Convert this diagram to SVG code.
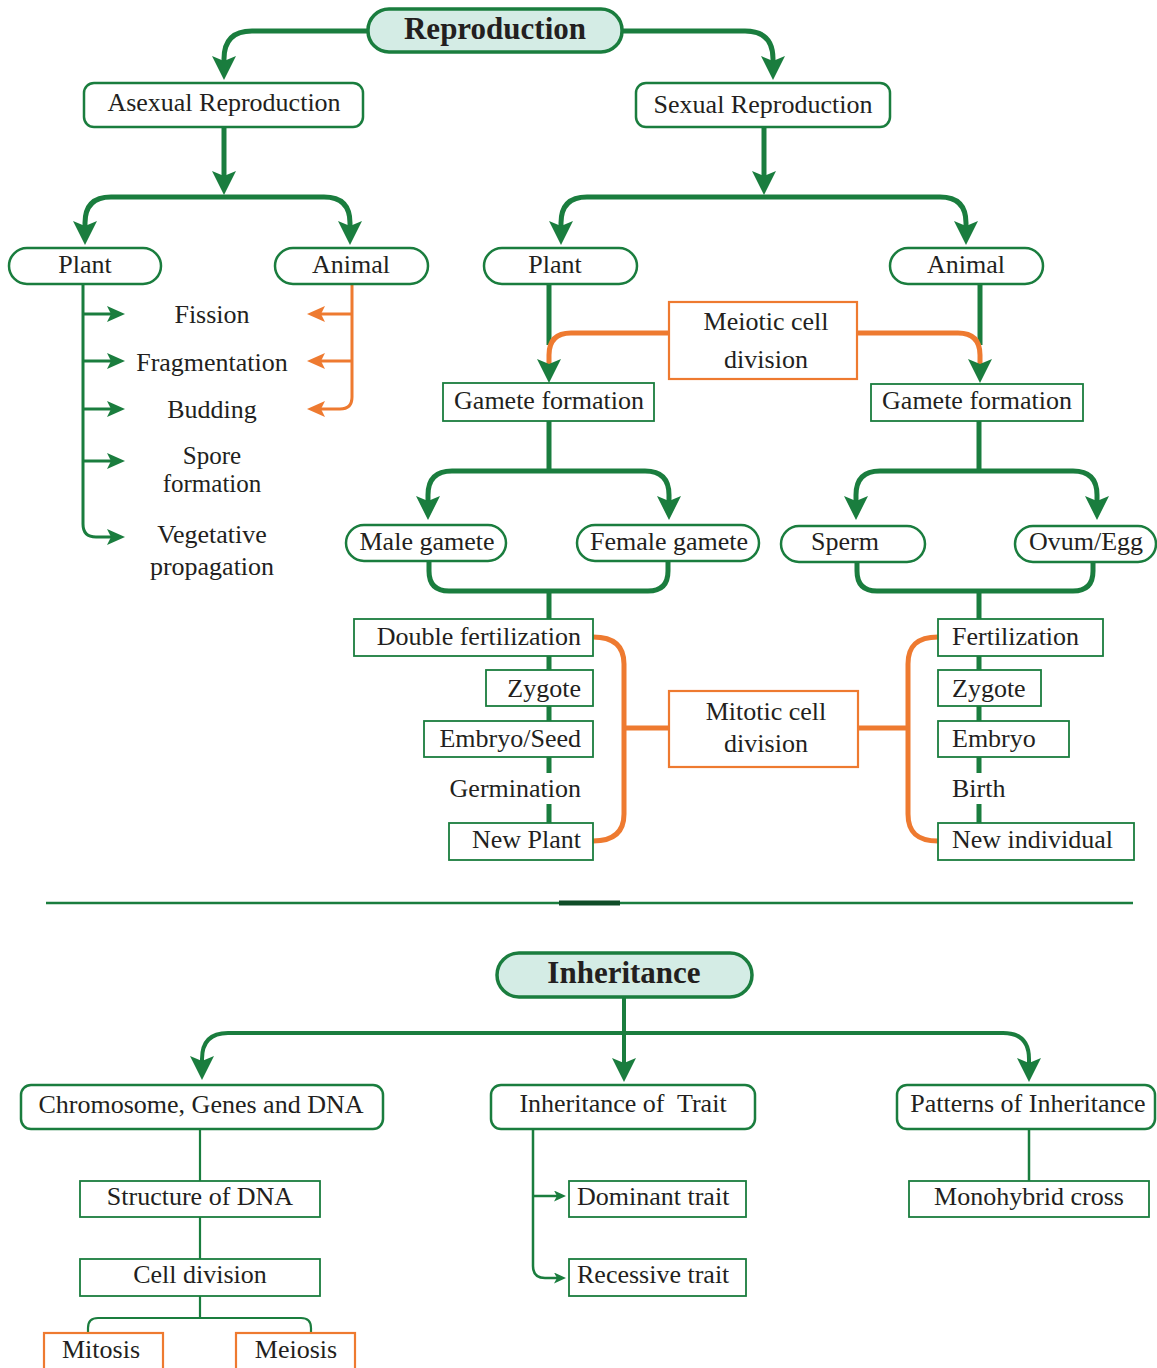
<svg xmlns="http://www.w3.org/2000/svg" width="1157" height="1368" viewBox="0 0 1157 1368">
<defs>
<style>
.bg{fill:#ffffff}
.root{fill:#d4ece5;stroke:#1a7d3e;stroke-width:3.5}
.pill{fill:#ffffff;stroke:#1a7d3e;stroke-width:2.5}
.box{fill:#ffffff;stroke:#1a7d3e;stroke-width:1.8}
.obox{fill:#ffffff;stroke:#ee7a30;stroke-width:2.2}
.t{font-family:"Liberation Serif","Times New Roman",serif;font-size:26px;fill:#231f20;text-anchor:middle}
.s{text-anchor:start}
.e{text-anchor:end}
.tb{font-family:"Liberation Serif","Times New Roman",serif;font-size:31px;font-weight:bold;fill:#231f20;text-anchor:middle}
.main{fill:none;stroke:#1a7d3e;stroke-width:5}
.thin{fill:none;stroke:#1a7d3e;stroke-width:3}
.fine{fill:none;stroke:#1a7d3e;stroke-width:2.2}
.or{fill:none;stroke:#ee7a30;stroke-width:5}
.orthin{fill:none;stroke:#ee7a30;stroke-width:3}
</style>
<marker id="ah" viewBox="0 0 24 24" markerWidth="24" markerHeight="24" refX="10" refY="12" orient="auto" markerUnits="userSpaceOnUse"><path d="M0,0 L24,12 L0,24 L5,12 z" fill="#1a7d3e"/></marker>
<marker id="sg" viewBox="0 0 18 16" markerWidth="18" markerHeight="16" refX="6" refY="8" orient="auto" markerUnits="userSpaceOnUse"><path d="M0,0 L18,8 L0,16 L4,8 z" fill="#1a7d3e"/></marker>
<marker id="so" viewBox="0 0 18 16" markerWidth="18" markerHeight="16" refX="6" refY="8" orient="auto" markerUnits="userSpaceOnUse"><path d="M0,0 L18,8 L0,16 L4,8 z" fill="#ee7a30"/></marker>
<marker id="tg" viewBox="0 0 12 11" markerWidth="12" markerHeight="11" refX="3" refY="5.5" orient="auto" markerUnits="userSpaceOnUse"><path d="M0,0 L12,5.5 L0,11 L3,5.5 z" fill="#1a7d3e"/></marker>
</defs>
<rect class="bg" x="0" y="0" width="1157" height="1368"/>

<g id="connectors">
<path class="main" d="M368,31 H252 Q224,31 224,59 V66" marker-end="url(#ah)"/>
<path class="main" d="M622,31 H745 Q773,31 773,59 V66" marker-end="url(#ah)"/>
<path class="main" d="M224,127 V181" marker-end="url(#ah)"/>
<path class="main" d="M224,197 H111 Q85,197 85,223 V231" marker-end="url(#ah)"/>
<path class="main" d="M224,197 H324 Q350,197 350,223 V231" marker-end="url(#ah)"/>
<path class="main" d="M764,127 V181" marker-end="url(#ah)"/>
<path class="main" d="M764,197 H587 Q561,197 561,223 V231" marker-end="url(#ah)"/>
<path class="main" d="M764,197 H940 Q966,197 966,223 V231" marker-end="url(#ah)"/>

<path class="thin" d="M83,284 V524 Q83,537 96,537 H113" marker-end="url(#sg)"/>
<path class="thin" d="M83,314 H113" marker-end="url(#sg)"/>
<path class="thin" d="M83,361 H113" marker-end="url(#sg)"/>
<path class="thin" d="M83,409 H113" marker-end="url(#sg)"/>
<path class="thin" d="M83,461 H113" marker-end="url(#sg)"/>
<path class="orthin" d="M352,284 V397 Q352,409 340,409 H319" marker-end="url(#so)"/>
<path class="orthin" d="M352,314 H319" marker-end="url(#so)"/>
<path class="orthin" d="M352,361 H319" marker-end="url(#so)"/>

<path class="main" d="M549,284 V345"/>
<path class="or" d="M669,333 H571 Q549,333 549,355 V369" marker-end="url(#ah)"/>
<path class="main" d="M980,284 V345"/>
<path class="or" d="M857,333 H958 Q980,333 980,355 V369" marker-end="url(#ah)"/>

<path class="main" d="M549,421 V471"/>
<path class="main" d="M549,471 H452 Q428,471 428,495 V506" marker-end="url(#ah)"/>
<path class="main" d="M549,471 H645 Q669,471 669,495 V506" marker-end="url(#ah)"/>
<path class="main" d="M429,561 V571 Q429,591 449,591 H648 Q668,591 668,571 V561"/>
<path class="main" d="M549,591 V619"/>

<path class="main" d="M979,421 V471"/>
<path class="main" d="M979,471 H880 Q856,471 856,495 V506" marker-end="url(#ah)"/>
<path class="main" d="M979,471 H1073 Q1097,471 1097,495 V506" marker-end="url(#ah)"/>
<path class="main" d="M857,562 V571 Q857,591 877,591 H1073 Q1093,591 1093,571 V562"/>
<path class="main" d="M979,591 V619"/>

<path class="main" d="M549,656 V670 M549,706 V721 M549,757 V773 M549,804 V823"/>
<path class="main" d="M979,656 V670 M979,706 V721 M979,757 V773 M979,804 V823"/>

<path class="or" d="M593,637 C614,637 624,646 624,664 V814 C624,832 614,841 593,841"/>
<path class="or" d="M624,728 H669"/>
<path class="or" d="M938,637 C917,637 908,646 908,664 V814 C908,832 917,841 938,841"/>
<path class="or" d="M908,728 H858"/>

<path class="fine" d="M46,903 H1133" style="stroke-width:2.5"/>
<path d="M559,903 H620" fill="none" stroke="#0f4d28" stroke-width="5"/>

<path class="main" style="stroke-width:4" d="M624,997 V1068" marker-end="url(#ah)"/>
<path class="main" style="stroke-width:4" d="M624,1033 H228 Q202,1033 202,1059 V1066" marker-end="url(#ah)"/>
<path class="main" style="stroke-width:4" d="M624,1033 H1003 Q1029,1033 1029,1059 V1068" marker-end="url(#ah)"/>

<path class="fine" d="M200,1129 V1181 M200,1217 V1259 M200,1296 V1318"/>
<path class="fine" d="M88,1333 V1328 Q88,1318 98,1318 H301 Q311,1318 311,1328 V1333"/>
<path class="fine" style="stroke-width:2.5" d="M533,1129 V1266 Q533,1278 545,1278 H557" marker-end="url(#tg)"/>
<path class="fine" style="stroke-width:2.5" d="M533,1196 H557" marker-end="url(#tg)"/>
<path class="fine" style="stroke-width:2.5" d="M1029,1129 V1181"/>
</g>

<g id="reproduction"><rect class="root" x="368" y="9" width="254" height="43" rx="21"/><text class="tb" x="495" y="39">Reproduction</text></g>
<g id="asexual"><rect class="pill" x="84" y="83" width="279" height="44" rx="10"/><text class="t" x="224" y="111">Asexual Reproduction</text></g>
<g id="sexual"><rect class="pill" x="636" y="83" width="254" height="44" rx="10"/><text class="t" x="763" y="113">Sexual Reproduction</text></g>
<g id="plant-a"><rect class="pill" x="9" y="248" width="152" height="36" rx="18"/><text class="t" x="85" y="273">Plant</text></g>
<g id="animal-a"><rect class="pill" x="275" y="248" width="153" height="36" rx="18"/><text class="t" x="351" y="273">Animal</text></g>
<g id="plant-s"><rect class="pill" x="484" y="248" width="153" height="36" rx="18"/><text class="t" x="555" y="273">Plant</text></g>
<g id="animal-s"><rect class="pill" x="890" y="248" width="153" height="36" rx="18"/><text class="t" x="966" y="273">Animal</text></g>

<g id="fission"><text class="t" x="212" y="323">Fission</text></g>
<g id="fragmentation"><text class="t" x="212" y="371">Fragmentation</text></g>
<g id="budding"><text class="t" x="212" y="418">Budding</text></g>
<g id="spore"><text class="t" x="212" y="464" style="font-size:25px">Spore</text><text class="t" x="212" y="492" style="font-size:25px">formation</text></g>
<g id="vegetative"><text class="t" x="212" y="543">Vegetative</text><text class="t" x="212" y="575">propagation</text></g>

<g id="meiotic"><rect class="obox" x="669" y="302" width="188" height="77"/><text class="t" x="766" y="330">Meiotic cell</text><text class="t" x="766" y="368">division</text></g>
<g id="gamete-l"><rect class="box" x="443" y="383" width="211" height="38"/><text class="t" x="549" y="409">Gamete formation</text></g>
<g id="gamete-r"><rect class="box" x="871" y="384" width="212" height="37"/><text class="t" x="977" y="409">Gamete formation</text></g>
<g id="male"><rect class="pill" x="346" y="525" width="160" height="36" rx="18"/><text class="t" x="427" y="550">Male gamete</text></g>
<g id="female"><rect class="pill" x="577" y="525" width="182" height="36" rx="18"/><text class="t" x="669" y="550">Female gamete</text></g>
<g id="sperm"><rect class="pill" x="781" y="526" width="144" height="36" rx="18"/><text class="t" x="845" y="550">Sperm</text></g>
<g id="ovum"><rect class="pill" x="1015" y="526" width="141" height="36" rx="18"/><text class="t" x="1086" y="550">Ovum/Egg</text></g>

<g id="double-fert"><rect class="box" x="354" y="619" width="239" height="37"/><text class="t e" x="581" y="645">Double fertilization</text></g>
<g id="zygote-l"><rect class="box" x="486" y="670" width="107" height="36"/><text class="t e" x="581" y="697">Zygote</text></g>
<g id="embryo-seed"><rect class="box" x="424" y="721" width="169" height="36"/><text class="t e" x="581" y="747">Embryo/Seed</text></g>
<g id="germination"><text class="t e" x="581" y="797">Germination</text></g>
<g id="new-plant"><rect class="box" x="449" y="823" width="144" height="37"/><text class="t e" x="581" y="848">New Plant</text></g>
<g id="mitotic"><rect class="obox" x="669" y="691" width="189" height="76"/><text class="t" x="766" y="720">Mitotic cell</text><text class="t" x="766" y="752">division</text></g>
<g id="fertilization"><rect class="box" x="938" y="619" width="165" height="37"/><text class="t s" x="952" y="645">Fertilization</text></g>
<g id="zygote-r"><rect class="box" x="938" y="670" width="103" height="36"/><text class="t s" x="952" y="697">Zygote</text></g>
<g id="embryo"><rect class="box" x="938" y="721" width="131" height="36"/><text class="t s" x="952" y="747">Embryo</text></g>
<g id="birth"><text class="t s" x="952" y="797">Birth</text></g>
<g id="new-individual"><rect class="box" x="938" y="823" width="196" height="37"/><text class="t s" x="952" y="848">New individual</text></g>

<g id="inheritance"><rect class="root" x="497" y="953" width="255" height="44" rx="22"/><text class="tb" x="624" y="983">Inheritance</text></g>
<g id="chromosome"><rect class="pill" x="21" y="1085" width="362" height="44" rx="10"/><text class="t" x="201" y="1113">Chromosome, Genes and DNA</text></g>
<g id="inh-trait"><rect class="pill" x="491" y="1085" width="264" height="44" rx="10"/><text class="t" x="623" y="1112" style="white-space:pre">Inheritance of  Trait</text></g>
<g id="patterns"><rect class="pill" x="897" y="1085" width="258" height="44" rx="10"/><text class="t" x="1028" y="1112">Patterns of Inheritance</text></g>
<g id="structure"><rect class="box" x="80" y="1181" width="240" height="36"/><text class="t" x="200" y="1205">Structure of DNA</text></g>
<g id="cell-division"><rect class="box" x="80" y="1259" width="240" height="37"/><text class="t" x="200" y="1283">Cell division</text></g>
<g id="mitosis"><rect class="obox" x="44" y="1333" width="119" height="40"/><text class="t" x="101" y="1358">Mitosis</text></g>
<g id="meiosis"><rect class="obox" x="236" y="1333" width="119" height="40"/><text class="t" x="296" y="1358">Meiosis</text></g>
<g id="dominant"><rect class="box" x="569" y="1181" width="177" height="36"/><text class="t s" x="577" y="1205">Dominant trait</text></g>
<g id="recessive"><rect class="box" x="569" y="1259" width="177" height="37"/><text class="t s" x="577" y="1283">Recessive trait</text></g>
<g id="monohybrid"><rect class="box" x="909" y="1181" width="240" height="36"/><text class="t" x="1029" y="1205">Monohybrid cross</text></g>
</svg>
